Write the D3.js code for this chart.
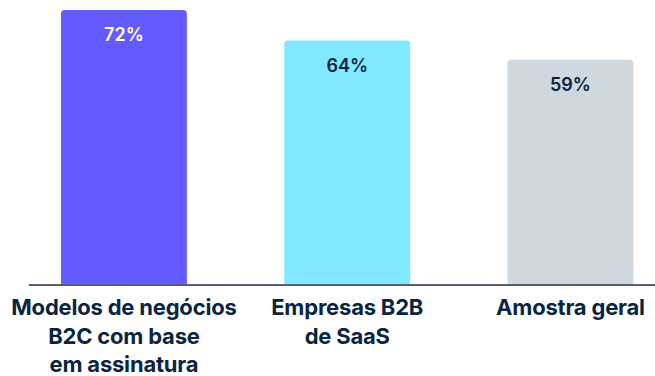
<!DOCTYPE html>
<html>
<head>
<meta charset="utf-8">
<script src="https://cdn.jsdelivr.net/npm/d3@7"></script>
<style>
  html, body { margin: 0; padding: 0; background: #fff; }
  svg { display: block; }
</style>
</head>
<body>
<svg id="chart" width="655" height="376"></svg>
<script>
const categories = [
  ['Modelos de negócios', 'B2C com base', 'em assinatura'],
  ['Empresas B2B', 'de SaaS'],
  ['Amostra geral'],
];
const values = [72, 64, 59];
const barColors = ['#635bff', '#80e9ff', '#cfd7df'];
const valueColors = ['#ffffff', '#0a2540', '#0a2540'];

const width = 655;
const height = 376;
const baseline = 285;
const font = 'Inter, Roboto, "Liberation Sans", sans-serif';

const svg = d3.select('#chart');

const x = d3.scaleBand()
  .domain(d3.range(values.length))
  .range([29, width])
  .paddingInner(0.436)
  .paddingOuter(0.12)
  .align(0.597);

const y = d3.scaleLinear()
  .domain([0, 72])
  .range([baseline, 10]);

// bars with rounded top corners only
const r = 4;
function barPath(i, v) {
  const x0 = x(i), x1 = x(i) + x.bandwidth();
  const top = y(v), bot = y(0);
  return `M${x0},${bot} V${top + r} Q${x0},${top} ${x0 + r},${top} H${x1 - r} Q${x1},${top} ${x1},${top + r} V${bot} Z`;
}

svg.append('g')
  .selectAll('path')
  .data(values)
  .join('path')
    .attr('d', (d, i) => barPath(i, d))
    .attr('fill', (d, i) => barColors[i]);

svg.append('g')
  .selectAll('text')
  .data(values)
  .join('text')
    .attr('x', (d, i) => x(i) + x.bandwidth() / 2)
    .attr('y', d => y(d) + 31)
    .attr('text-anchor', 'middle')
    .attr('font-family', font)
    .attr('font-size', 18)
    .attr('font-weight', 600)
    .attr('fill', (d, i) => valueColors[i])
    .text(d => d + '%');

// baseline
svg.append('line')
  .attr('x1', 29)
  .attr('x2', width)
  .attr('y1', baseline)
  .attr('y2', baseline)
  .attr('stroke', '#55616e')
  .attr('stroke-width', 2);

// category labels
const labels = svg.append('g')
  .selectAll('text')
  .data(categories)
  .join('text')
    .attr('text-anchor', 'middle')
    .attr('font-family', font)
    .attr('font-size', 22)
    .attr('font-weight', 700)
    .attr('letter-spacing', -0.2)
    .attr('fill', '#0a2540');

labels.selectAll('tspan')
  .data((d, i) => d.map(line => ({ line, i })))
  .join('tspan')
    .attr('x', d => x(d.i) + x.bandwidth() / 2)
    .attr('y', (d, j) => baseline + 30 + j * 28.5)
    .text(d => d.line);
</script>
</body>
</html>
